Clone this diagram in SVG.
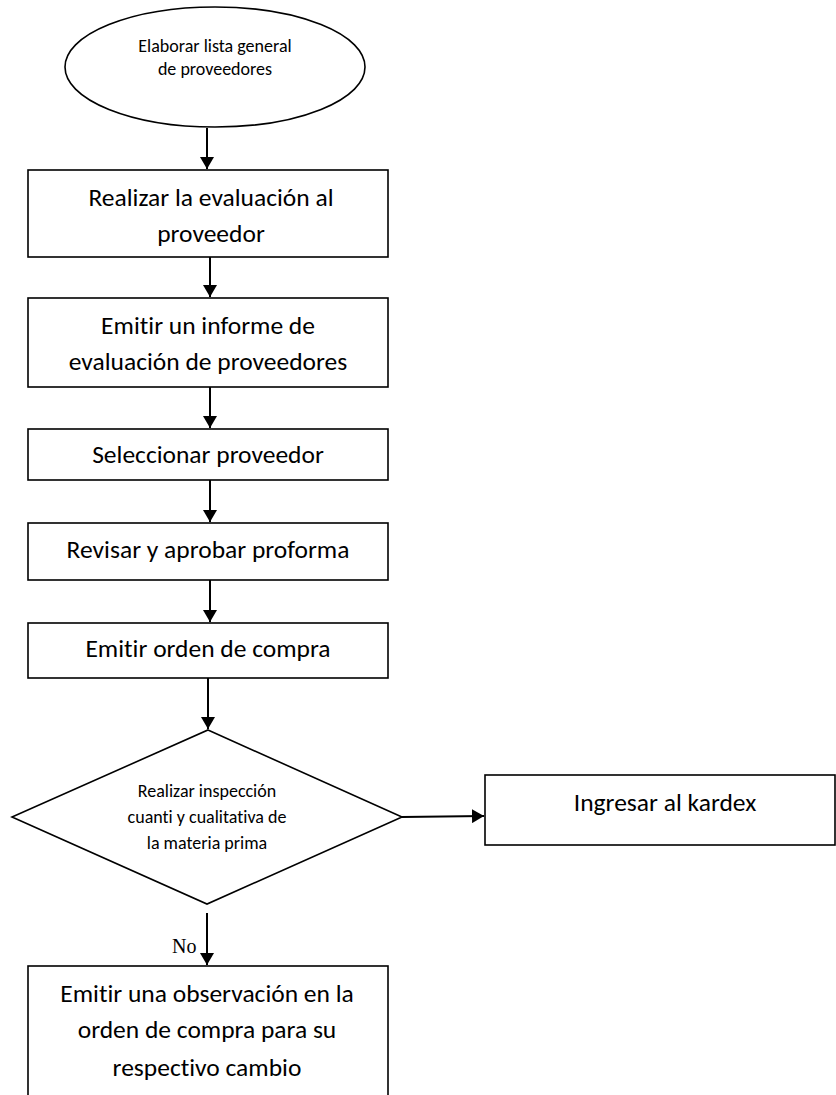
<svg xmlns="http://www.w3.org/2000/svg" width="836" height="1095" viewBox="0 0 836 1095">
  <style>
    .shape { fill: #ffffff; stroke: #000000; stroke-width: 1.6; }
    .edge { fill: none; stroke: #000000; stroke-width: 2; }
    .t { font-family: Carlito, Lato, "Liberation Sans", sans-serif; font-size: 25.5px; fill: #000000; text-anchor: middle; font-variant-ligatures: none; }
    .ts { font-family: Carlito, Lato, "Liberation Sans", sans-serif; font-size: 18px; fill: #000000; text-anchor: middle; font-variant-ligatures: none; }
    .lbl { font-family: "Liberation Serif", serif; font-size: 20px; fill: #000000; }
  </style>
  <defs>
    <marker id="arrow" viewBox="0 0 12 14" refX="12" refY="7" markerWidth="12" markerHeight="14" markerUnits="userSpaceOnUse" orient="auto">
      <path d="M0,0 L12,7 L0,14 Z" fill="#000000"/>
    </marker>
  </defs>
  <rect width="836" height="1095" fill="#ffffff"/>

  <!-- connectors -->
  <g id="connectors">
    <line class="edge" x1="207" y1="128" x2="207" y2="169" marker-end="url(#arrow)"/>
    <line class="edge" x1="210" y1="257" x2="210" y2="297" marker-end="url(#arrow)"/>
    <line class="edge" x1="210" y1="387" x2="210" y2="428" marker-end="url(#arrow)"/>
    <line class="edge" x1="210" y1="480" x2="210" y2="522" marker-end="url(#arrow)"/>
    <line class="edge" x1="210" y1="580" x2="210" y2="622" marker-end="url(#arrow)"/>
    <line class="edge" x1="208" y1="678" x2="208" y2="729" marker-end="url(#arrow)"/>
    <line class="edge" x1="402" y1="817" x2="484" y2="816" marker-end="url(#arrow)"/>
    <line class="edge" x1="207" y1="913" x2="207" y2="965" marker-end="url(#arrow)"/>
    <text class="lbl" x="172" y="953">No</text>
  </g>

  <g id="start">
    <ellipse class="shape" cx="215" cy="67" rx="150" ry="60"/>
    <text class="ts" x="215" y="52">Elaborar lista general</text>
    <text class="ts" x="215" y="75">de proveedores</text>
  </g>

  <g id="evaluar">
    <rect class="shape" x="28" y="170" width="360" height="87"/>
    <text class="t" x="211" y="206">Realizar la evaluación al</text>
    <text class="t" x="211" y="242">proveedor</text>
  </g>

  <g id="informe">
    <rect class="shape" x="28" y="298" width="360" height="89"/>
    <text class="t" x="208" y="334">Emitir un informe de</text>
    <text class="t" x="208" y="370">evaluación de proveedores</text>
  </g>

  <g id="seleccionar">
    <rect class="shape" x="28" y="429" width="360" height="51"/>
    <text class="t" x="208" y="463">Seleccionar proveedor</text>
  </g>

  <g id="proforma">
    <rect class="shape" x="28" y="523" width="360" height="57"/>
    <text class="t" x="208" y="558">Revisar y aprobar proforma</text>
  </g>

  <g id="orden">
    <rect class="shape" x="28" y="623" width="360" height="55"/>
    <text class="t" x="208" y="657">Emitir orden de compra</text>
  </g>

  <g id="inspeccion">
    <polygon class="shape" points="208,730 402,817 207,904 12,817"/>
    <text class="ts" x="207" y="797">Realizar inspección</text>
    <text class="ts" x="207" y="823">cuanti y cualitativa de</text>
    <text class="ts" x="207" y="849">la materia prima</text>
  </g>

  <g id="kardex">
    <rect class="shape" x="485" y="775" width="350" height="70"/>
    <text class="t" x="665" y="811">Ingresar al kardex</text>
  </g>

  <g id="observacion">
    <rect class="shape" x="28" y="966" width="360" height="140"/>
    <text class="t" x="207" y="1002">Emitir una observación en la</text>
    <text class="t" x="207" y="1038">orden de compra para su</text>
    <text class="t" x="207" y="1076">respectivo cambio</text>
  </g>
</svg>
